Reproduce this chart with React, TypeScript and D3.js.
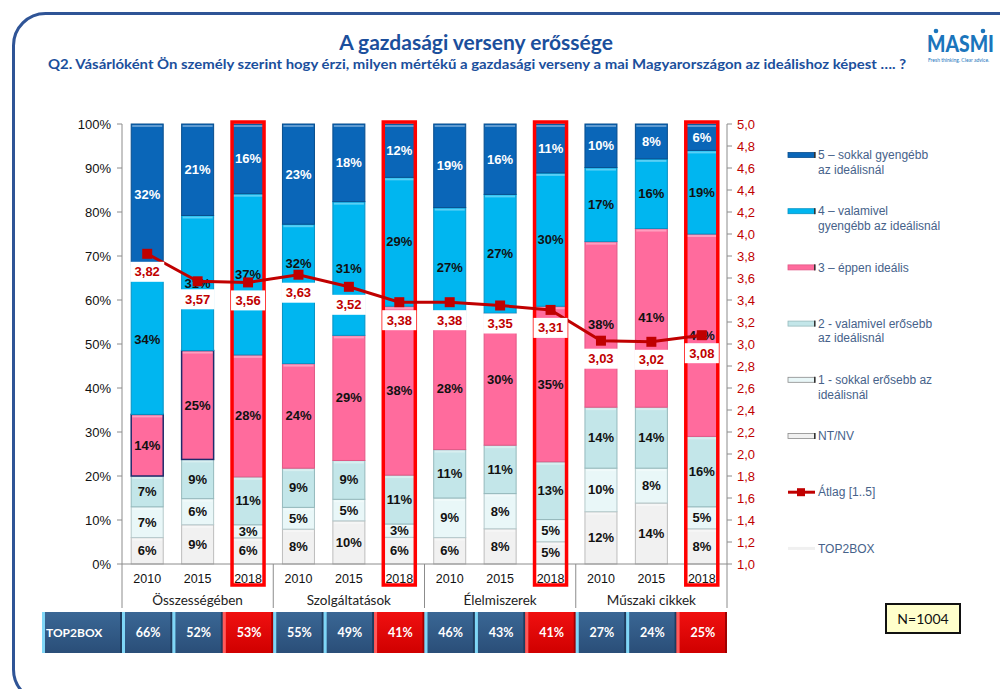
import React from "react";
import * as d3 from "d3";

const categories = ["Összességében", "Szolgáltatások", "Élelmiszerek", "Műszaki cikkek"];
const years = ["2010", "2015", "2018"];
// stacked shares, bottom to top
const ntnv = [6, 9, 6, 8, 10, 6, 6, 8, 5, 12, 14, 8];
const s1 = [7, 6, 3, 5, 5, 3, 9, 8, 5, 10, 8, 5];
const s2 = [7, 9, 11, 9, 9, 11, 11, 11, 13, 14, 14, 16];
const s3 = [14, 25, 28, 24, 29, 38, 28, 30, 35, 38, 41, 46];
const s4 = [34, 31, 37, 32, 31, 29, 27, 27, 30, 17, 16, 19];
const s5 = [32, 21, 16, 23, 18, 12, 19, 16, 11, 10, 8, 6];
const averages = [3.82, 3.57, 3.56, 3.63, 3.52, 3.38, 3.38, 3.35, 3.31, 3.03, 3.02, 3.08];
const top2box = [66, 52, 53, 55, 49, 41, 46, 43, 41, 27, 24, 25];
const leftTicks = [0, 10, 20, 30, 40, 50, 60, 70, 80, 90, 100];
const rightTicks = d3.range(1, 5.0001, 0.2);

const legendItems = [
  { key: "s5", lines: ["5 – sokkal gyengébb", "az ideálisnál"] },
  { key: "s4", lines: ["4 – valamivel", "gyengébb az ideálisnál"] },
  { key: "s3", lines: ["3 – éppen ideális"] },
  { key: "s2", lines: ["2 -  valamivel erősebb", "az ideálisnál"] },
  { key: "s1", lines: ["1 -  sokkal erősebb az", "ideálisnál"] },
  { key: "ntnv", lines: ["NT/NV"] },
  { key: "avg", lines: ["Átlag [1..5]"] },
  { key: "t2b", lines: ["TOP2BOX"] },
];

const seriesKeys = ["ntnv", "s1", "s2", "s3", "s4", "s5"];
const seriesData: Record<string, number[]> = { ntnv, s1, s2, s3, s4, s5 };
const colors: Record<string, string> = {
  ntnv: "#F1F1F1",
  s1: "#E9F7F8",
  s2: "#C3E6E9",
  s3: "#FF6B9D",
  s4: "#00B6F0",
  s5: "#0A66B8",
};
const strokes: Record<string, string> = {
  ntnv: "#BDBDBD",
  s1: "#B5C9CB",
  s2: "#95B9BC",
  s3: "#E25885",
  s4: "#0592C4",
  s5: "#084E8E",
};
// label moved (in % points) where the original chart moved it off the average label
const labelNudge: Record<string, number> = { "s4-3": 7 };

const L = 122, R = 727, T = 124, B = 564;

export default function App() {
  const idx = d3.range(12);
  const x = d3.scaleBand<number>().domain(idx).range([L, R]).paddingInner(0.365).paddingOuter(0.1825);
  const step = x.step();
  const bw = x.bandwidth();
  const y = d3.scaleLinear().domain([0, 100]).range([B, T]);
  const yr = d3.scaleLinear().domain([1, 5]).range([B, T]);
  const comma = (f: string) => (v: number) => d3.format(f)(v).replace(".", ",");

  const stackRows = idx.map((i) => {
    const obj: any = { i };
    seriesKeys.forEach((k) => (obj[k] = seriesData[k][i]));
    return obj;
  });
  const stack = d3.stack<any>().keys(seriesKeys).offset(d3.stackOffsetExpand);
  const layers = stack(stackRows);

  const cx = (i: number) => (x(i) as number) + bw / 2;
  const line = d3.line<number>().x((_, i) => cx(i)).y((v) => yr(v));

  const titleColor = "#1B4F9C";
  const legendColor = "#46628A";

  return (
    <svg width={1000} height={689} style={{ display: "block", position: "absolute", left: 0, top: 0 }}>
      <defs>
        <linearGradient id="cellBlue" x1="0" y1="0" x2="0" y2="1">
          <stop offset="0" stopColor="#3A6795" />
          <stop offset="1" stopColor="#2A4E78" />
        </linearGradient>
        <linearGradient id="cellRed" x1="0" y1="0" x2="0" y2="1">
          <stop offset="0" stopColor="#F01010" />
          <stop offset="1" stopColor="#D00000" />
        </linearGradient>
      </defs>
      <rect x={0} y={0} width={1000} height={689} fill="#fff" />
      {/* frame */}
      <rect x={13.5} y={13.5} width={1020} height={688} rx={32} fill="none" stroke="#2F5496" strokeWidth={3} />

      {/* titles */}
      <text x={476} y={50} textAnchor="middle" fontFamily="Lato, 'Open Sans', sans-serif" fontWeight={700} fontSize={21} fill={titleColor}>
        A gazdasági verseny erőssége
      </text>
      <text x={477} y={69} textAnchor="middle" fontFamily="Lato, 'Open Sans', sans-serif" fontWeight={700} fontSize={12.5} fill={titleColor} textLength={858} lengthAdjust="spacingAndGlyphs">
        Q2. Vásárlóként Ön személy szerint hogy érzi, milyen mértékű a gazdasági verseny a mai Magyarországon az ideálishoz képest …. ?
      </text>
      {/* logo */}
      <g>
        <text x={927} y={52} fontFamily="Lato, 'Open Sans', sans-serif" fontWeight={900} fontSize={22} fill="#1B75BC" textLength={67} lengthAdjust="spacingAndGlyphs">MASMI</text>
        <circle cx={936} cy={31} r={2.3} fill="#1B75BC" />
        <circle cx={983} cy={31} r={2.3} fill="#1B75BC" />
        <text x={928} y={62} fontFamily="Lato, sans-serif" fontSize={5} fill="#1B75BC">Fresh thinking. Clear advice.</text>
      </g>

      {/* bars */}
      {layers.map((layer) => (
        <g key={layer.key}>
          {layer.map((d, i) => (
            <rect
              key={i}
              x={x(i)}
              y={y(d[1] * 100)}
              width={bw}
              height={y(d[0] * 100) - y(d[1] * 100)}
              fill={colors[layer.key]}
              stroke={layer.key === "s3" && i < 2 ? "#1F2A6B" : strokes[layer.key]}
              strokeWidth={layer.key === "s3" && i < 2 ? 1.5 : 1}
            />
          ))}
        </g>
      ))}
      {/* bar top highlights */}
      {layers.map((layer) => (
        <g key={"h" + layer.key}>
          {layer.map((d, i) => (
            <rect key={i} x={(x(i) as number) + 1} y={y(d[1] * 100) + 1} width={bw - 2} height={2} fill="#fff" opacity={0.35} />
          ))}
        </g>
      ))}
      {/* segment labels */}
      {layers.map((layer) => (
        <g key={"l" + layer.key}>
          {layer.map((d, i) => (
            <text
              key={i}
              x={cx(i)}
              y={y(((d[0] + d[1]) / 2) * 100 + (labelNudge[layer.key + "-" + i] || 0))}
              dy="0.35em"
              textAnchor="middle"
              fontFamily="Arial, 'Liberation Sans', sans-serif"
              fontWeight={700}
              fontSize={13}
              fill={layer.key === "s5" ? "#fff" : "#111"}
            >
              {seriesData[layer.key][i]}%
            </text>
          ))}
        </g>
      ))}

      {/* axes */}
      <line x1={L} x2={L} y1={T} y2={B} stroke="#8C8C8C" />
      {leftTicks.map((t) => (
        <g key={t}>
          <line x1={L - 5} x2={L} y1={y(t)} y2={y(t)} stroke="#8C8C8C" />
          <text x={111} y={y(t)} dy="0.35em" textAnchor="end" fontFamily="Arial, 'Liberation Sans', sans-serif" fontSize={13} fill="#111">{t}%</text>
        </g>
      ))}
      <line x1={R} x2={R} y1={T} y2={B} stroke="#8C8C8C" />
      {rightTicks.map((t) => (
        <g key={t}>
          <line x1={R} x2={R + 5} y1={yr(t)} y2={yr(t)} stroke="#8C8C8C" />
          <text x={737} y={yr(t)} dy="0.35em" textAnchor="start" fontFamily="Arial, 'Liberation Sans', sans-serif" fontSize={13} fill="#C00000">{comma(".1f")(t)}</text>
        </g>
      ))}
      <line x1={L} x2={R} y1={B} y2={B} stroke="#8C8C8C" />
      {d3.range(5).map((k) => (
        <line key={k} x1={L + step * 3 * k} x2={L + step * 3 * k} y1={B} y2={608} stroke="#8C8C8C" />
      ))}
      {idx.map((i) => (
        <text key={i} x={cx(i)} y={583} textAnchor="middle" fontFamily="Arial, 'Liberation Sans', sans-serif" fontSize={12.5} fill="#111">
          {years[i % 3]}
        </text>
      ))}
      {categories.map((c, k) => (
        <text key={c} x={L + step * (3 * k + 1.5)} y={605} textAnchor="middle" fontFamily="Lato, 'Open Sans', sans-serif" fontSize={13.5} fill="#222">
          {c}
        </text>
      ))}

      {/* 2018 highlight boxes */}
      {idx.filter((i) => i % 3 === 2).map((i) => (
        <rect key={i} x={x(i)} y={122} width={bw} height={463} fill="none" stroke="#FF0000" strokeWidth={3.5} />
      ))}

      {/* average line */}
      <path d={line(averages) || ""} fill="none" stroke="#C00000" strokeWidth={3} />
      {averages.map((v, i) => (
        <rect key={i} x={cx(i) - 5} y={yr(v) - 5} width={10} height={10} fill="#C00000" />
      ))}
      {averages.map((v, i) => (
        <g key={"a" + i}>
          <rect x={(x(i) as number) - 1} y={yr(v) + 8} width={bw + 2} height={20} fill="#fff" />
          <text x={cx(i)} y={yr(v) + 18} dy="0.35em" textAnchor="middle" fontFamily="Arial, 'Liberation Sans', sans-serif" fontWeight={700} fontSize={13} fill="#C00000">
            {comma(".2f")(v)}
          </text>
        </g>
      ))}

      {/* legend */}
      {legendItems.map((it, k) => {
        const ly = 155 + k * 56.2;
        let marker: React.ReactNode;
        if (it.key === "avg") {
          marker = (
            <g>
              <line x1={788} x2={815} y1={ly} y2={ly} stroke="#C00000" strokeWidth={3} />
              <rect x={797} y={ly - 4} width={8} height={8} fill="#C00000" />
            </g>
          );
        } else if (it.key === "t2b") {
          marker = <line x1={788} x2={815} y1={ly} y2={ly} stroke="#F0F0F0" strokeWidth={3} />;
        } else {
          marker = (
            <g>
              <rect x={788} y={ly - 2.5} width={27} height={5} fill={colors[it.key]} stroke={it.key === "ntnv" || it.key === "s1" ? "#8A8A8A" : strokes[it.key]} strokeWidth={0.8} />
              <rect x={814} y={ly - 3} width={1.5} height={6} fill="#333" />
            </g>
          );
        }
        return (
          <g key={it.key}>
            {marker}
            {it.lines.map((ln, j) => (
              <text key={j} x={818} y={ly + j * 14.5} dy="0.35em" fontFamily="Arial, 'Liberation Sans', sans-serif" fontSize={12} fill={legendColor}>
                {ln}
              </text>
            ))}
          </g>
        );
      })}

      {/* TOP2BOX row */}
      <g>
        <rect x={42} y={612} width={L - 42} height={41} fill="url(#cellBlue)" />
        <rect x={42} y={612} width={3} height={41} fill="#7FD6F6" />
        <rect x={L - 2} y={612} width={2} height={41} fill="#1E3C5E" />
        <text x={46} y={633} dy="0.35em" fontFamily="Lato, 'Open Sans', sans-serif" fontWeight={700} fontSize={12} fill="#fff">TOP2BOX</text>
        {top2box.map((v, i) => {
          const x0 = L + step * i;
          const red = i % 3 === 2;
          return (
            <g key={i}>
              <rect x={x0} y={612} width={step} height={41} fill={red ? "url(#cellRed)" : "url(#cellBlue)"} />
              <rect x={x0} y={612} width={3} height={41} fill={red ? "#FF5A5A" : "#7FD6F6"} />
              <rect x={x0 + step - 2} y={612} width={2} height={41} fill={red ? "#A00000" : "#1E3C5E"} />
              <text x={x0 + step / 2 + 1} y={633} dy="0.35em" textAnchor="middle" fontFamily="Lato, 'Open Sans', sans-serif" fontWeight={700} fontSize={12.5} fill="#fff">
                {v}%
              </text>
            </g>
          );
        })}
      </g>

      {/* N box */}
      <rect x={886} y={604} width={74} height={29} fill="#FFFFCC" stroke="#111" strokeWidth={2} />
      <text x={923} y={619} dy="0.35em" textAnchor="middle" fontFamily="Lato, 'Open Sans', sans-serif" fontSize={14} fill="#111">N=1004</text>
    </svg>
  );
}
